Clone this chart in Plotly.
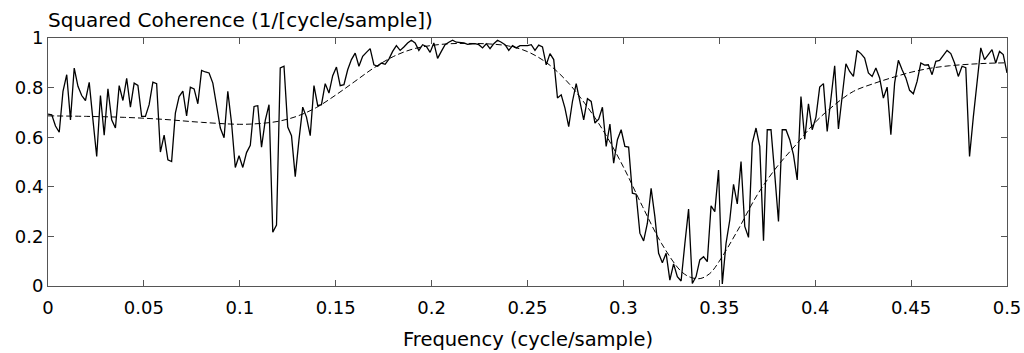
import numpy as np
import plotly.graph_objects as go

# Estimated coherence (257 bins, 0..0.5 cycle/sample)
n_bins = 257
freq = [i / 512 for i in range(n_bins)]
coh_est = [
    0.693, 0.690, 0.645, 0.620, 0.785, 0.852, 0.670, 0.879, 0.805, 0.768,
    0.748, 0.821, 0.670, 0.522, 0.768, 0.608, 0.795, 0.670, 0.637, 0.808,
    0.748, 0.837, 0.721, 0.818, 0.809, 0.684, 0.684, 0.731, 0.822, 0.816,
    0.540, 0.608, 0.509, 0.502, 0.697, 0.764, 0.786, 0.686, 0.802, 0.795,
    0.735, 0.869, 0.863, 0.859, 0.818, 0.731, 0.637, 0.598, 0.785, 0.657,
    0.478, 0.525, 0.478, 0.538, 0.567, 0.724, 0.727, 0.560, 0.668, 0.731,
    0.217, 0.246, 0.879, 0.886, 0.641, 0.606, 0.441, 0.590, 0.721, 0.681,
    0.606, 0.808, 0.727, 0.731, 0.816, 0.778, 0.848, 0.883, 0.808, 0.812,
    0.872, 0.913, 0.939, 0.886, 0.926, 0.942, 0.957, 0.892, 0.886, 0.899,
    0.894, 0.915, 0.946, 0.969, 0.950, 0.964, 0.980, 0.991, 0.980, 0.950,
    0.973, 0.966, 0.942, 0.980, 0.918, 0.946, 0.973, 0.983, 0.991, 0.983,
    0.983, 0.980, 0.974, 0.977, 0.977, 0.973, 0.960, 0.977, 0.957, 0.977,
    0.991, 0.983, 0.973, 0.950, 0.969, 0.960, 0.969, 0.969, 0.969, 0.973,
    0.950, 0.971, 0.964, 0.892, 0.937, 0.913, 0.758, 0.771, 0.717, 0.643,
    0.744, 0.816, 0.735, 0.670, 0.755, 0.744, 0.657, 0.673, 0.721, 0.563,
    0.653, 0.495, 0.590, 0.630, 0.563, 0.560, 0.374, 0.370, 0.213, 0.182,
    0.253, 0.394, 0.280, 0.132, 0.094, 0.132, 0.024, 0.089, 0.038, 0.020,
    0.170, 0.310, 0.010, 0.038, 0.105, 0.118, 0.098, 0.323, 0.300, 0.468,
    0.008, 0.172, 0.266, 0.410, 0.331, 0.502, 0.240, 0.196, 0.576, 0.637,
    0.563, 0.183, 0.630, 0.630, 0.450, 0.260, 0.630, 0.630, 0.590, 0.529,
    0.428, 0.764, 0.592, 0.735, 0.630, 0.681, 0.802, 0.816, 0.623, 0.758,
    0.888, 0.633, 0.764, 0.896, 0.865, 0.845, 0.950, 0.937, 0.919, 0.859,
    0.845, 0.879, 0.839, 0.758, 0.802, 0.610, 0.818, 0.910, 0.872, 0.839,
    0.789, 0.775, 0.825, 0.899, 0.891, 0.892, 0.852, 0.906, 0.910, 0.929,
    0.950, 0.937, 0.899, 0.845, 0.886, 0.880, 0.522, 0.680, 0.816, 0.960,
    0.913, 0.933, 0.953, 0.899, 0.946, 0.933, 0.859,
]

# Theoretical coherence (sampled from the dashed curve)
freq_true = [0.0, 0.02, 0.04, 0.06, 0.08, 0.10, 0.11, 0.12, 0.13, 0.14,
             0.15, 0.16, 0.17, 0.18, 0.19, 0.20, 0.21, 0.22, 0.23, 0.24,
             0.25, 0.26, 0.27, 0.28, 0.29, 0.30, 0.31, 0.32, 0.33, 0.335,
             0.34, 0.345, 0.35, 0.36, 0.37, 0.38, 0.39, 0.40, 0.41, 0.42,
             0.43, 0.44, 0.45, 0.46, 0.47, 0.48, 0.49, 0.50]
coh_true = [0.686, 0.684, 0.680, 0.672, 0.660, 0.652, 0.655, 0.664, 0.685, 0.720,
            0.770, 0.825, 0.880, 0.925, 0.955, 0.970, 0.977, 0.978, 0.976, 0.968,
            0.945, 0.900, 0.830, 0.735, 0.620, 0.480, 0.320, 0.170, 0.060, 0.035,
            0.030, 0.050, 0.100, 0.230, 0.370, 0.480, 0.570, 0.660, 0.730, 0.785,
            0.815, 0.840, 0.862, 0.878, 0.888, 0.894, 0.898, 0.900]

x_ticks = [0, 0.05, 0.1, 0.15, 0.2, 0.25, 0.3, 0.35, 0.4, 0.45, 0.5]
x_tick_text = ["0", "0.05", "0.1", "0.15", "0.2", "0.25", "0.3", "0.35", "0.4", "0.45", "0.5"]
y_ticks = [0, 0.2, 0.4, 0.6, 0.8, 1]
y_tick_text = ["0", "0.2", "0.4", "0.6", "0.8", "1"]

font_family = "DejaVu Sans, Arial, sans-serif"
tick_size = 18
title_size = 20

fig = go.Figure()
fig.add_trace(go.Scatter(x=freq, y=coh_est, mode="lines",
                         line=dict(color="black", width=1.3), showlegend=False))
fig.add_trace(go.Scatter(x=freq_true, y=coh_true, mode="lines",
                         line=dict(color="black", width=1, dash="6px,3px", shape="spline"),
                         showlegend=False))

axis_common = dict(showline=True, linecolor="#555", linewidth=1, mirror="ticks",
                   ticks="inside", ticklen=6, tickcolor="#555", showgrid=False,
                   zeroline=False, automargin=False,
                   tickfont=dict(family=font_family, size=tick_size, color="black"))

fig.update_xaxes(range=[0, 0.5], tickvals=x_ticks, ticktext=x_tick_text,
                 ticklabelstandoff=5, **axis_common)
fig.update_yaxes(range=[0, 1], tickvals=y_ticks, ticktext=y_tick_text, **axis_common)

fig.update_layout(
    width=1024, height=353,
    margin=dict(l=48, r=17, t=38, b=67),
    paper_bgcolor="white", plot_bgcolor="white",
    font=dict(family=font_family, size=tick_size, color="black"),
    annotations=[
        dict(text="Squared Coherence (1/[cycle/sample])", xref="paper", yref="paper",
             x=0, y=1, xanchor="left", yanchor="bottom", xshift=-2, yshift=4,
             showarrow=False,
             font=dict(family=font_family, size=title_size, color="black")),
        dict(text="Frequency (cycle/sample)", xref="paper", yref="paper",
             x=0.5, y=0, xanchor="center", yanchor="top", yshift=-40,
             showarrow=False,
             font=dict(family=font_family, size=19.5, color="black")),
    ],
)

fig.write_html("out.html")
